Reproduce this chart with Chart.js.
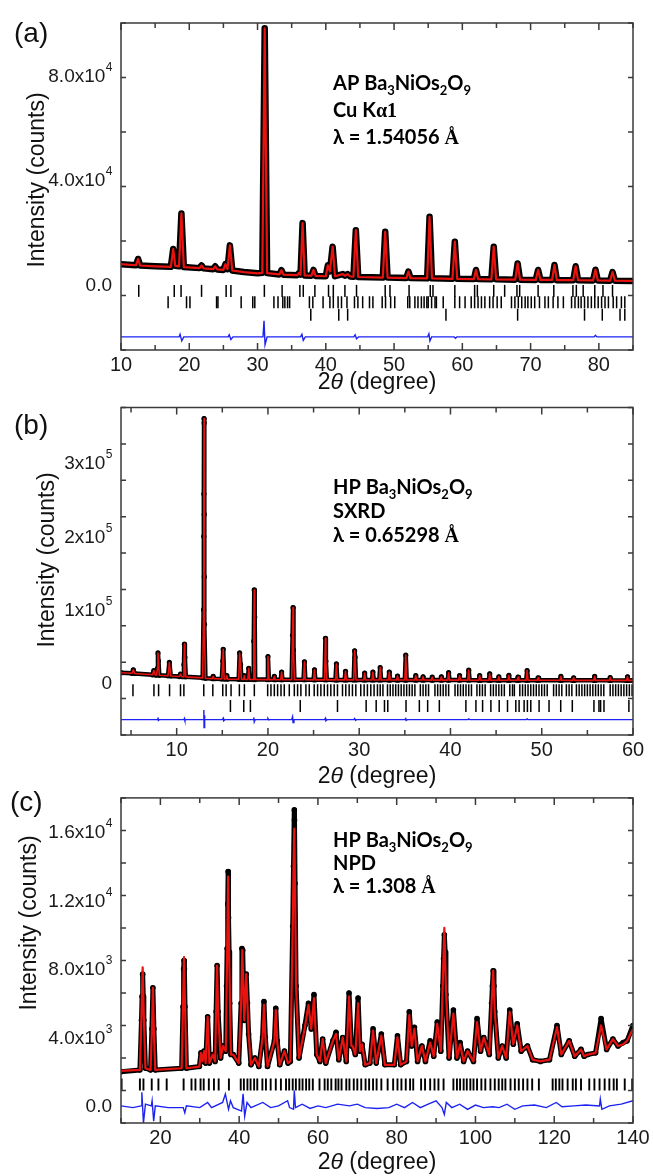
<!DOCTYPE html>
<html>
  <head>
    <meta charset="utf-8">
    <title>Ba3NiOs2O9 refinements</title>
    <script src="https://cdn.jsdelivr.net/npm/chart.js@4"></script>
    <style>
      body { margin: 0; background: #fff; }
      #wrap { position: relative; width: 653px; height: 1176px; }
      canvas { position: absolute; left: 0; }
    </style>
  </head>
  <body>
    <div id="wrap">
      <canvas id="chartA" width="653" height="400" style="top:0px"></canvas>
      <canvas id="chartB" width="653" height="390" style="top:400px"></canvas>
      <canvas id="chartC" width="653" height="386" style="top:790px"></canvas>
    </div>
<script>
// ---------- (a) AP Ba3NiOs2O9, Cu Ka1 ----------
// [2theta, counts]
const aObs = [
  [10.0,7800],[12.2,7400],[12.5,9800],[12.8,7300],[15.0,7000],[17.3,6800],[17.65,13600],[17.95,7200],[18.5,7000],[18.85,27200],[19.2,6700],
  [21.5,6300],[21.8,7300],[22.1,6200],[23.5,5900],[23.8,7000],[24.1,5800],[25.0,5600],[25.3,7800],[25.6,5900],[25.95,15000],[26.3,5400],
  [28.0,4800],[30.0,4300],[30.7,4500],[31.05,98000],[31.4,4400],[33.2,3900],[33.5,5500],[33.8,3800],[35.8,3600],[36.1,4500],[36.3,3800],
  [36.6,23500],[36.9,3500],[37.9,3400],[38.2,5600],[38.5,3300],[40.0,3200],[40.3,7400],[40.6,5000],[41.0,14500],[41.35,3200],[42.5,4000],
  [42.8,3400],[43.2,4000],[43.6,3100],[44.05,3000],[44.4,20800],[44.75,2900],[48.35,2700],[48.7,20200],[49.05,2700],[51.8,2500],[52.1,5000],
  [52.4,2500],[54.85,2400],[55.2,25900],[55.55,2400],[58.55,2200],[58.9,16400],[59.25,2200],[61.7,2100],[62.0,5600],[62.3,2100],[64.25,2000],
  [64.6,14500],[64.95,2000],[67.75,1900],[68.1,8100],[68.45,1900],[70.75,1800],[71.1,5600],[71.45,1800],[73.15,1800],[73.5,7500],[73.85,1700],
  [76.25,1700],[76.6,7000],[76.95,1700],[79.15,1600],[79.5,5700],[79.85,1600],[81.65,1500],[82.0,4800],[82.35,1500],[85.0,1400]
];
const aDiff = [
  [10,-20000],[18.5,-20000],[18.65,-19000],[18.9,-21500],[19.2,-20000],[25.7,-20000],[25.85,-19200],[26.1,-21000],[26.4,-20000],[30.8,-20000],
  [30.95,-13800],[31.1,-23000],[31.4,-20000],[36.3,-20000],[36.5,-19000],[36.7,-21300],[37.0,-20000],[44.1,-20000],[44.3,-19200],[44.5,-20700],
  [44.8,-20000],[54.9,-20000],[55.1,-18800],[55.25,-21500],[55.5,-20000],[58.8,-20000],[59.0,-20500],[59.2,-20000],[79.3,-20000],[79.5,-19400],
  [79.7,-20000],[85.0,-20000]
];
// Bragg positions, three phases
const aBragg1 = [12.6,17.8,18.8,21.8,25.4,26.1,31.0,33.6,36.2,36.7,38.4,40.4,41.1,42.8,44.5,48.7,49.4,52.2,55.3,55.7,58.9,61.8,62.2,64.6,66.2,68.0,68.4,71.1,73.4,76.2,76.7,77.7,79.4,80.6,82.0];
const aBragg2 = [16.9,19.6,20.1,24.0,24.2,27.6,29.3,29.6,32.4,33.0,33.7,34.0,34.4,34.7,37.6,38.1,39.6,40.6,41.1,41.8,42.3,43.1,44.2,44.7,45.4,46.4,46.9,
  48.26,48.75,49.5,50.1,52.0,52.3,53.05,53.5,54.0,54.4,54.8,55.0,55.5,56.0,56.2,57.2,58.9,59.6,60.4,61.3,61.8,62.3,62.8,63.3,64.0,64.5,65.1,65.7,
  67.2,67.7,68.2,68.7,69.2,69.6,70.1,70.6,71.3,72.1,72.6,73.3,74.0,74.8,76.0,76.5,77.0,77.4,77.9,78.4,78.9,79.4,79.9,80.4,80.9,81.4,82.1,82.6,83.3,83.8];
const aBragg3 = [37.8,41.9,43.2,57.6,68.1,77.9,80.5,83.1,83.8];
const aXLabels = [10,20,30,40,50,60,70,80];
const aYTickValues = [0,40000,80000];
const aYTickLabels = ['0.0','4.0x10\u2074','8.0x10\u2074'];

// ---------- (b) HP Ba3NiOs2O9, SXRD ----------
const bObs = [
  [3.9,14000],[5.1,13200],[5.25,18000],[5.4,13000],[7.35,11200],[7.5,17000],[7.65,11000],[7.8,10800],[7.9,20000],[7.95,41000],[8.0,30000],[8.1,10500],
  [9.05,9800],[9.2,28000],[9.35,9600],[10.3,8800],[10.42,12000],[10.55,8700],[10.75,8600],[10.8,25000],[10.85,53000],[10.9,35000],[11.0,8400],
  [12.85,7000],[12.95,100000],[12.97,200000],[12.98,258000],[13.0,361000],[13.01,355000],[13.02,230000],[13.03,145000],[13.05,80000],[13.15,6400],
  [13.9,6000],[14.0,9000],[14.1,5900],[14.95,5600],[15.05,30000],[15.1,46000],[15.2,5500],[15.4,5400],[15.5,10000],[15.6,5300],[16.8,5000],
  [16.9,41000],[17.0,25000],[17.1,5000],[17.35,4900],[17.4,10000],[17.5,4900],[17.8,4800],[17.9,20000],[18.0,4800],[18.4,4700],[18.45,57000],
  [18.5,127000],[18.55,90000],[18.6,4700],[19.9,4600],[20.0,36000],[20.1,4600],[20.6,4600],[20.7,9000],[20.8,4500],[21.4,4500],[21.5,15000],
  [21.6,4500],[22.6,4400],[22.7,65000],[22.75,103000],[22.8,45000],[22.9,4400],[23.9,4400],[24.0,29000],[24.1,4400],[25.0,4300],[25.1,18000],
  [25.2,4300],[26.2,4300],[26.3,61000],[26.35,30000],[26.45,4300],[27.4,4200],[27.5,26000],[27.6,4200],[28.4,4200],[28.5,16000],[28.6,4200],
  [29.4,4200],[29.5,44000],[29.55,35000],[29.65,4200],[30.5,4100],[30.6,13500],[30.7,4100],[31.4,4100],[31.5,15000],[31.6,4100],[32.2,4100],
  [32.3,21000],[32.4,4100],[33.2,4000],[33.3,15000],[33.4,4000],[34.1,4000],[34.2,9500],[34.3,4000],[35.0,4000],[35.1,38000],[35.2,4000],
  [36.1,4000],[36.2,10000],[36.3,4000],[36.9,4000],[37.0,8500],[37.1,4000],[37.9,3900],[38.0,8000],[38.1,3900],[38.9,3900],[39.0,8500],
  [39.1,3900],[39.7,3900],[39.8,14000],[39.9,3900],[40.9,3900],[41.0,10000],[41.1,3900],[41.9,3900],[42.0,17500],[42.1,3900],[43.1,3800],
  [43.2,10000],[43.3,3800],[44.2,3800],[44.3,12500],[44.4,3800],[45.2,3800],[45.3,8500],[45.4,3800],[46.3,3800],[46.4,10500],[46.5,3800],
  [47.3,3800],[47.4,8000],[47.5,3800],[48.3,3700],[48.4,17000],[48.5,3700],[49.5,3700],[49.6,7000],[49.7,3700],[52.0,3700],[52.1,9000],
  [52.2,3700],[53.4,3600],[53.5,7000],[53.6,3600],[55.7,3600],[55.8,9000],[55.9,3600],[57.4,3600],[57.5,7500],[57.6,3600],[59.3,3500],
  [59.4,8500],[59.5,3500],[60.0,3500]
];
const bDiff = [
  [3.9,-50000],[7.85,-50000],[7.95,-47000],[8.0,-51000],[8.1,-50000],[10.8,-50000],[10.85,-48500],[10.9,-51000],[11.0,-50000],[12.9,-50000],
  [12.98,-37000],[13.0,-61000],[13.03,-44000],[13.1,-50000],[15.0,-50000],[15.1,-48000],[15.15,-51500],[15.3,-50000],[18.4,-50000],[18.45,-47000],
  [18.5,-53000],[18.6,-50000],[19.9,-50000],[20.0,-48500],[20.1,-50500],[20.2,-50000],[22.6,-50000],[22.7,-46000],[22.75,-54000],[22.85,-50000],
  [26.2,-50000],[26.3,-48000],[26.35,-51500],[26.5,-50000],[29.4,-50000],[29.5,-48500],[29.6,-51000],[29.7,-50000],[35.0,-50000],[35.1,-48500],
  [35.15,-51000],[35.3,-50000],[41.9,-50000],[42.0,-49000],[42.1,-50000],[48.3,-50000],[48.4,-49000],[48.5,-50000],[60.0,-50000]
];
const bBragg1 = [5.21,7.51,8.02,9.22,10.42,10.79,12.97,13.96,15.05,15.42,15.96,16.87,17.42,18.51,19.97,20.33,20.70,21.06,21.43,21.79,22.34,22.89,
  23.25,23.61,24.16,24.53,25.07,25.44,25.80,26.17,26.53,26.89,27.26,27.62,28.17,28.53,28.90,29.26,29.63,30.17,30.54,30.90,31.27,31.63,
  32.0,32.3,32.6,33.1,33.4,33.7,34.0,34.3,34.6,34.9,35.2,35.5,35.8,36.1,36.7,37.0,37.3,37.6,38.3,38.6,38.9,39.2,39.5,39.8,40.5,40.8,41.1,41.4,
  41.7,42.0,42.3,42.9,43.2,43.5,43.8,44.4,44.7,45.0,45.3,45.6,45.9,46.5,46.8,47.0,47.6,47.9,48.2,48.5,48.8,49.1,49.4,49.7,50.0,50.3,50.6,51.3,
  51.6,51.9,52.2,52.7,53.0,53.3,53.8,54.1,54.4,54.7,55.0,55.3,55.6,55.9,56.2,56.5,56.8,57.5,57.8,58.1,58.4,58.7,59.0,59.3,59.6,59.9];
const bBragg2 = [15.89,17.35,18.08,23.54,27.62,30.76,31.86,32.77,33.13,35.13,36.59,37.50,38.78,41.69,42.79,43.52,44.43,45.34,46.25,47.16,47.52,
  48.07,48.43,48.80,49.71,50.80,52.08,53.35,55.72,56.27,56.45,56.82,59.55];
const bXLabels = [10,20,30,40,50,60];
const bYTickValues = [0,100000,200000,300000];
const bYTickLabels = ['0','1x10\u2075','2x10\u2075','3x10\u2075'];

// ---------- (c) HP Ba3NiOs2O9, NPD ----------
const cObs = [
  [10,2000],[14.8,2100],[15.2,5000],[15.35,6400],[15.5,7700],[15.65,6400],[15.8,5000],[16.2,2200],[17.5,2100],[17.85,4500],[18.1,6900],[18.35,4500],
  [18.7,2100],[25.4,2200],[25.75,5800],[25.9,8000],[26.0,8500],[26.1,8000],[26.25,5800],[26.6,2200],[29.9,2300],[30.3,3100],[30.7,2600],[31.1,3200],
  [31.5,2500],[32.0,5200],[32.45,2500],[33.3,3000],[33.9,2600],[34.15,5500],[34.4,8200],[34.65,5500],[35.3,2800],[35.9,3500],[36.6,3200],
  [36.8,7000],[36.95,9200],[37.1,11800],[37.2,13700],[37.3,11000],[37.45,9000],[37.6,6000],[37.9,3000],[38.5,3000],[39.9,2500],[40.5,6000],
  [40.7,9200],[40.9,9100],[41.3,5000],[41.8,7700],[42.1,6000],[42.4,4200],[43.0,2400],[44.0,2800],[45.0,2300],[45.95,4000],[46.3,6100],
  [46.65,4000],[47.2,2300],[48.95,3800],[49.3,5700],[49.65,3800],[50.3,2400],[51.5,3200],[52.4,2500],[53.0,2600],[53.6,10500],[53.8,14000],
  [54.0,17300],[54.05,16700],[54.2,13000],[54.45,7000],[55.2,2800],[56.7,4700],[57.6,6000],[58.3,4500],[59.0,6500],[59.7,3000],[60.5,2600],
  [61.2,3900],[62.0,2500],[63.8,3800],[64.6,4300],[65.3,2700],[66.3,4000],[67.2,2600],[67.9,6600],[68.5,3500],[68.8,3500],[69.5,3000],
  [70.2,6300],[70.7,3200],[71.2,3600],[72.0,2400],[73.2,2500],[74.0,4500],[74.8,2500],[76.1,4200],[77.0,2400],[79.4,2400],[80.2,4100],
  [81.0,2400],[82.5,2600],[83.2,5500],[83.8,3500],[84.5,4600],[85.3,2600],[86.4,3500],[87.3,2600],[88.5,3800],[89.4,2900],[90.3,4900],
  [91.2,3200],[91.7,7000],[91.9,8600],[92.1,10000],[92.3,9000],[92.5,6500],[93.3,2800],[94.4,5600],[95.3,2800],[96.1,3700],[97.0,2600],
  [98.0,3200],[99.5,2600],[100.4,5100],[101.3,3200],[102.1,4000],[103.5,3000],[104.1,6000],[104.3,7000],[104.5,7900],[104.7,7000],[104.9,5500],
  [105.8,2800],[106.8,3500],[107.8,2800],[108.7,5600],[109.6,3600],[110.6,4800],[111.6,3200],[113.2,3500],[114.5,2700],[116.5,2600],
  [118.8,2700],[120.7,4700],[121.8,3000],[123.8,3800],[125.2,2900],[126.8,3300],[127.6,2900],[128.5,3000],[130.5,3100],[131.9,5100],
  [133.3,3300],[134.9,3900],[136.2,3500],[137.5,3700],[138.5,3800],[140,4700]
];
const cCalc = [
  [10,2050],[14.8,2100],[15.2,5300],[15.5,8100],[15.8,5200],[16.2,2200],[17.5,2100],[17.85,4400],[18.1,6900],[18.35,4400],[18.7,2100],[25.4,2200],
  [25.75,5900],[26.0,8700],[26.25,5900],[26.6,2200],[29.9,2300],[30.3,3100],[30.7,2600],[31.1,3200],[31.5,2500],[32.0,5200],[32.45,2500],
  [33.3,3000],[33.9,2600],[34.15,5500],[34.4,8200],[34.65,5500],[35.3,2800],[35.9,3500],[36.6,3200],[36.95,9000],[37.2,13400],[37.45,9000],
  [37.9,3000],[38.5,3000],[39.9,2500],[40.5,6000],[40.8,9100],[41.3,5000],[41.8,7700],[42.1,6000],[42.4,4200],[43.0,2400],[44.0,2800],
  [45.0,2300],[45.95,4000],[46.3,5900],[46.65,4000],[47.2,2300],[48.95,3800],[49.3,5600],[49.65,3800],[50.3,2400],[51.5,3200],[52.4,2500],
  [53.0,2600],[53.6,10400],[53.8,13800],[54.0,16200],[54.2,12500],[54.45,7000],[55.2,2800],[56.7,4600],[57.6,5900],[58.3,4500],[59.0,6300],
  [59.7,3000],[60.5,2600],[61.2,3900],[62.0,2500],[63.8,3800],[64.6,4200],[65.3,2700],[66.3,4000],[67.2,2600],[67.9,6400],[68.5,3500],
  [68.8,3500],[69.5,3000],[70.2,6000],[70.7,3200],[71.2,3600],[72.0,2400],[73.2,2500],[74.0,4400],[74.8,2500],[76.1,4100],[77.0,2400],
  [79.4,2400],[80.2,4000],[81.0,2400],[82.5,2600],[83.2,5300],[83.8,3500],[84.5,4500],[85.3,2600],[86.4,3500],[87.3,2600],[88.5,3700],
  [89.4,2900],[90.3,4800],[91.2,3200],[91.7,7200],[92.1,10400],[92.5,6800],[93.3,2800],[94.4,5400],[95.3,2800],[96.1,3600],[97.0,2600],
  [98.0,3200],[99.5,2600],[100.4,4900],[101.3,3200],[102.1,4000],[103.5,3000],[104.1,6000],[104.5,7900],[104.9,5500],[105.8,2800],[106.8,3500],
  [107.8,2800],[108.7,5500],[109.6,3600],[110.6,4700],[111.6,3200],[113.2,3500],[114.5,2700],[116.5,2600],[118.8,2700],[120.7,4600],
  [121.8,3000],[123.8,3800],[125.2,2900],[126.8,3300],[127.6,2900],[128.5,3000],[130.5,3100],[131.9,4700],[133.3,3300],[134.9,3900],
  [136.2,3500],[137.5,3600],[138.5,3800],[140,4500]
];
const cDiff = [
  [10,0],[13,-100],[15.1,0],[15.3,800],[15.7,-1000],[16.2,100],[17.7,0],[17.9,300],[18.3,-900],[18.7,0],[22,-100],[25.8,-100],[26.2,-400],
  [26.6,0],[30,-100],[32,200],[33,-100],[35.8,200],[36.5,700],[37.3,-200],[37.8,300],[38.5,-100],[40.6,-300],[41.0,700],[41.4,-600],[42,200],
  [43,-100],[46,200],[48,-100],[50,0],[52.3,300],[52.8,-100],[53.8,-200],[54.0,900],[54.3,-100],[56,100],[58,-150],[60,0],[62,-100],[65,100],
  [68,0],[70,100],[72,-100],[75,-150],[78,-100],[80,100],[82,-100],[84,200],[86,-100],[88,100],[90,300],[91.5,-100],[92.1,-500],[92.6,200],
  [94,-100],[96,100],[98,-200],[100,50],[102,-100],[104.4,-50],[106,-100],[108,100],[110,-200],[112,0],[115,50],[118,-100],[120.5,200],
  [122,-50],[125,0],[128,50],[131.5,0],[131.7,400],[132.1,-200],[134,0],[137,100],[140,300]
];
const cBragg = [10.15,14.8,15.7,17.8,19.5,21.6,25.9,27.9,28.9,30.2,31.0,32.3,33.6,34.8,37.4,40.4,41.2,42.1,42.9,43.8,44.6,45.9,46.8,48.0,49.3,
  50.6,51.9,52.7,53.6,54.4,55.3,56.1,57.0,57.8,58.7,60.4,61.7,62.5,63.4,64.5,65.2,66.0,67.2,68.0,69.1,70.0,71.0,72.1,73.0,74.0,74.9,76.1,
  77.7,79.1,80.2,81.2,82.3,83.4,84.2,86.2,87.2,88.5,89.6,90.6,91.9,94.4,95.3,96.1,97.0,97.8,98.7,99.5,100.4,101.5,102.5,103.8,104.9,105.9,
  106.8,107.6,108.9,110.0,111.0,112.1,113.2,114.4,116.1,119.6,120.4,121.3,122.1,123.4,124.7,125.5,126.8,128.9,130.2,131.5,132.8,134.0,
  135.1,135.9,137.9,139.8];
const cXLabels = [20,40,60,80,100,120,140];
const cYTickValues = [0,4000,8000,12000,16000];
const cYTickLabels = ['0.0','4.0x10\u00b3','8.0x10\u00b3','1.2x10\u2074','1.6x10\u2074'];

// ---------- drawing ----------
const SANS = '"Liberation Sans", Arial, sans-serif';
const BOLD = 'bold 20px Lato, "Open Sans", sans-serif';
const SUB = 'bold 13px Lato, "Open Sans", sans-serif';
const SERIF = 'bold 20px "Liberation Serif", serif';
const SUPERS = '\u2070\u00b9\u00b2\u00b3\u2074\u2075\u2076\u2077\u2078\u2079';
Chart.defaults.font.family = SANS;

function pts(pairs) {
  return pairs.map(function (p) { return {x: p[0], y: p[1]}; });
}
function row(xs, level) {
  return xs.map(function (x) { return {x: x, y: level}; });
}

// box round the plot, inward ticks on all four sides, y tick labels
const framePlugin = {
  id: 'frame',
  afterDatasetsDraw(chart, args, o) {
    const ctx = chart.ctx, a = chart.chartArea;
    const xs = chart.scales.x, ys = chart.scales.y;
    ctx.save();
    ctx.strokeStyle = '#3a3a3a';
    ctx.lineWidth = 1.5;
    ctx.beginPath();
    xs.ticks.forEach(function (t) {
      const px = xs.getPixelForValue(t.value);
      const len = o.xLabels.indexOf(t.value) >= 0 ? 7 : 5;
      ctx.moveTo(px, a.bottom); ctx.lineTo(px, a.bottom - len);
      ctx.moveTo(px, a.top); ctx.lineTo(px, a.top + len);
    });
    ys.ticks.forEach(function (t) {
      const py = ys.getPixelForValue(t.value);
      const len = o.yValues.indexOf(t.value) >= 0 ? 7 : 5;
      ctx.moveTo(a.left, py); ctx.lineTo(a.left + len, py);
      ctx.moveTo(a.right, py); ctx.lineTo(a.right - len, py);
    });
    ctx.stroke();
    ctx.strokeRect(a.left, a.top, a.right - a.left, a.bottom - a.top);

    // labels like 8.0x10 with a raised power
    ctx.fillStyle = '#1a1a1a';
    ctx.textAlign = 'left';
    ctx.textBaseline = 'middle';
    o.yValues.forEach(function (v, i) {
      const lab = o.yLabels[i];
      const last = lab.slice(-1);
      const k = SUPERS.indexOf(last);
      const base = k >= 0 ? lab.slice(0, -1) : lab;
      const pow = k >= 0 ? String(k) : '';
      ctx.font = '12px ' + SANS;
      const wp = ctx.measureText(pow).width;
      ctx.font = '19px ' + SANS;
      const wb = ctx.measureText(base).width;
      const py = ys.getPixelForValue(v) + 1;
      const x0 = a.left - 9 - wb - wp;
      ctx.fillText(base, x0, py);
      ctx.font = '12px ' + SANS;
      ctx.fillText(pow, x0 + wb + 0.5, py - 9);
    });
    ctx.restore();
  }
};

// panel letter, axis titles and the sample note
const textPlugin = {
  id: 'panelText',
  afterDraw(chart, args, o) {
    const ctx = chart.ctx, a = chart.chartArea;
    ctx.save();
    ctx.fillStyle = '#111';
    ctx.textBaseline = 'middle';
    ctx.font = '28px ' + SANS;
    ctx.fillText(o.letter, o.letterX, o.letterY);

    // x title: 2θ (degree) with italic theta
    const parts = [['2', '23px ' + SANS], ['\u03b8', 'italic 23px ' + SANS], [' (degree)', '23px ' + SANS]];
    let w = 0;
    parts.forEach(function (p) { ctx.font = p[1]; w += ctx.measureText(p[0]).width; });
    let x = (a.left + a.right) / 2 - w / 2;
    parts.forEach(function (p) { ctx.font = p[1]; ctx.fillText(p[0], x, o.xTitleY); x += ctx.measureText(p[0]).width; });

    // y title
    ctx.save();
    ctx.translate(o.yTitleX, o.yTitleY);
    ctx.rotate(-Math.PI / 2);
    ctx.textAlign = 'center';
    ctx.font = '23px ' + SANS;
    ctx.fillText('Intensity (counts)', 0, 0);
    ctx.restore();

    // note lines
    ctx.textBaseline = 'alphabetic';
    ctx.fillStyle = '#000';
    o.note.forEach(function (line, i) {
      let nx = o.noteX;
      const ny = o.noteY[i];
      line.forEach(function (r) {
        ctx.font = r[1];
        ctx.fillText(r[0], nx, ny + (r[2] || 0));
        nx += ctx.measureText(r[0]).width;
      });
    });
    ctx.restore();
  }
};

function drawPanel(id, p) {
  const datasets = [
    {data: pts(p.calc), showLine: true, borderColor: '#e8130f', borderWidth: p.calcWidth,
     pointRadius: 0, borderJoinStyle: 'round', order: 1},
    {data: pts(p.obs), showLine: true, borderColor: '#000', borderWidth: p.obsWidth,
     pointRadius: p.dot, pointBackgroundColor: '#000', pointBorderWidth: 0,
     borderJoinStyle: 'round', borderCapStyle: 'round', order: 2},
    {data: pts(p.diff), showLine: true, borderColor: '#1c22f2', borderWidth: 1.4, pointRadius: 0, order: 3}
  ];
  p.bragg.forEach(function (xs, k) {
    datasets.push({data: row(xs, p.braggLevels[k]), showLine: false, pointStyle: 'line',
      pointRadius: p.braggLen, pointRotation: 90, pointBorderColor: '#000', pointBorderWidth: p.braggWidth, order: 4});
  });

  new Chart(document.getElementById(id), {
    type: 'scatter',
    data: {datasets: datasets},
    plugins: [framePlugin, textPlugin],
    options: {
      responsive: false,
      animation: false,
      events: [],
      layout: {padding: {left: 0, right: 20, top: p.top, bottom: 0}},
      plugins: {
        legend: {display: false},
        tooltip: {enabled: false},
        frame: {xLabels: p.xLabels, yValues: p.yTickValues, yLabels: p.yTickLabels},
        panelText: p.text
      },
      scales: {
        x: {
          type: 'linear', min: p.xMin, max: p.xMax,
          grid: {display: false, drawTicks: false},
          border: {display: false},
          ticks: {
            stepSize: p.xStep, includeBounds: false, autoSkip: false, maxRotation: 0, maxTicksLimit: 100,
            padding: 3, color: '#1a1a1a', font: {size: 20},
            callback: function (v) { return p.xLabels.indexOf(v) >= 0 ? String(v) : ''; }
          },
          afterFit: function (s) { s.height = p.xHeight; }
        },
        y: {
          type: 'linear', min: p.yMin, max: p.yMax,
          grid: {display: false, drawTicks: false},
          border: {display: false},
          ticks: {display: false, stepSize: p.yStep, includeBounds: false, maxTicksLimit: 100},
          afterFit: function (s) { s.width = 121; }
        }
      }
    }
  });
}

drawPanel('chartA', {
  obs: aObs, calc: aObs, diff: aDiff, obsWidth: 6.5, calcWidth: 2.2, dot: 0,
  bragg: [aBragg1, aBragg2, aBragg3], braggLevels: [-2400, -6750, -11500], braggLen: 6, braggWidth: 1.5,
  xMin: 10, xMax: 85, xStep: 5, xLabels: aXLabels,
  yMin: -25000, yMax: 100000, yStep: 20000, yTickValues: aYTickValues, yTickLabels: aYTickLabels,
  top: 23, xHeight: 50,
  text: {
    letter: '(a)', letterX: 14, letterY: 34, xTitleY: 383, yTitleX: 38, yTitleY: 180,
    noteX: 333, noteY: [90, 117, 144],
    note: [
      [['AP Ba', BOLD], ['3', SUB, 5], ['NiOs', BOLD], ['2', SUB, 5], ['O', BOLD], ['9', SUB, 5]],
      [['Cu K', BOLD], ['\u03b11', SERIF]],
      [['\u03bb = 1.54056 ', BOLD], ['\u00c5', SERIF]]
    ]
  }
});

drawPanel('chartB', {
  obs: bObs, calc: bObs, diff: bDiff, obsWidth: 4.5, calcWidth: 1.6, dot: 2.6,
  bragg: [bBragg1, bBragg2], braggLevels: [-10000, -31500], braggLen: 6, braggWidth: 1.5,
  xMin: 3.9, xMax: 60, xStep: 5, xLabels: bXLabels,
  yMin: -71000, yMax: 376000, yStep: 50000, yTickValues: bYTickValues, yTickLabels: bYTickLabels,
  top: 5, xHeight: 55,
  text: {
    letter: '(b)', letterX: 14, letterY: 26, xTitleY: 377, yTitleX: 48, yTitleY: 160,
    noteX: 333, noteY: [94, 118, 142],
    note: [
      [['HP Ba', BOLD], ['3', SUB, 5], ['NiOs', BOLD], ['2', SUB, 5], ['O', BOLD], ['9', SUB, 5]],
      [['SXRD', BOLD]],
      [['\u03bb = 0.65298 ', BOLD], ['\u00c5', SERIF]]
    ]
  }
});

drawPanel('chartC', {
  obs: cObs, calc: cCalc, diff: cDiff, obsWidth: 5, calcWidth: 2.2, dot: 2.8,
  bragg: [cBragg], braggLevels: [1250], braggLen: 6, braggWidth: 1.9,
  xMin: 10, xMax: 140, xStep: 10, xLabels: cXLabels,
  yMin: -1000, yMax: 18000, yStep: 2000, yTickValues: cYTickValues, yTickLabels: cYTickLabels,
  top: 5, xHeight: 53,
  text: {
    letter: '(c)', letterX: 10, letterY: 13, xTitleY: 373, yTitleX: 30, yTitleY: 133,
    noteX: 333, noteY: [57, 80, 103],
    note: [
      [['HP Ba', BOLD], ['3', SUB, 5], ['NiOs', BOLD], ['2', SUB, 5], ['O', BOLD], ['9', SUB, 5]],
      [['NPD', BOLD]],
      [['\u03bb = 1.308 ', BOLD], ['\u00c5', SERIF]]
    ]
  }
});
</script>
</body>
</html>
